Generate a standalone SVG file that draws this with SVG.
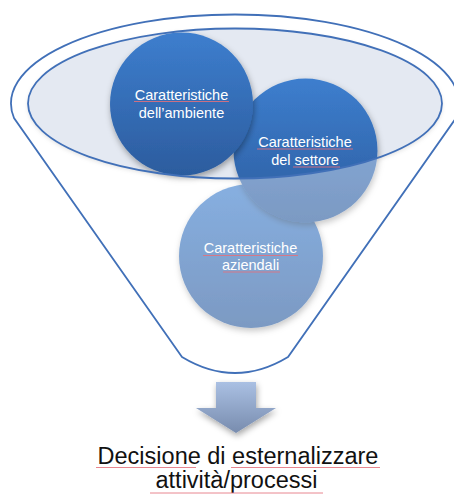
<svg xmlns="http://www.w3.org/2000/svg" width="454" height="497" viewBox="0 0 454 497">
<defs>
<linearGradient id="gc" x1="0" y1="0" x2="0" y2="1">
<stop offset="0" stop-color="#3D7ECE"/>
<stop offset="1" stop-color="#2C5C9E"/>
</linearGradient>
<linearGradient id="ga" x1="0" y1="0" x2="0" y2="1">
<stop offset="0" stop-color="#AAC0E3"/>
<stop offset="1" stop-color="#788CAE"/>
</linearGradient>
<filter id="sh" x="-20%" y="-20%" width="140%" height="140%">
<feDropShadow dx="1" dy="3" stdDeviation="3" flood-color="#000" flood-opacity="0.35"/>
</filter>
<filter id="sh2" x="-20%" y="-20%" width="140%" height="140%">
<feDropShadow dx="0" dy="2" stdDeviation="2" flood-color="#000" flood-opacity="0.2"/>
</filter>
</defs>
<style>
.ct{font-family:"Liberation Sans",Arial,sans-serif;font-size:14.5px;fill:#fff;text-anchor:middle}
.bt{font-family:"Liberation Sans",Arial,sans-serif;font-size:23.5px;fill:#111;text-anchor:middle}
.ol{fill:none;stroke:#4170B8;stroke-width:1.8}
.sp{stroke:#E4717C;stroke-width:1;opacity:0.85}
</style>
<g id="funnel-mouth">
<ellipse cx="235" cy="103.5" rx="207" ry="75" fill="#E4E9F2" filter="url(#sh2)"/>
</g>
<g id="circle3">
<circle cx="251" cy="256" r="72" fill="url(#gc)" filter="url(#sh)"/>
</g>
<g id="circle2">
<circle cx="305.5" cy="150.5" r="72" fill="url(#gc)" filter="url(#sh)"/>
</g>
<g id="circle1">
<circle cx="181.5" cy="104" r="71.5" fill="url(#gc)" filter="url(#sh)"/>
</g>
<g id="funnel">
<path d="M182 357 L14 118 A224 89 0 1 1 456 118 L288 357 Q235 389 182 357 Z M28 103.5 A207 75 0 1 0 442 103.5 A207 75 0 1 0 28 103.5 Z" fill="#fff" fill-opacity="0.38" fill-rule="evenodd"/>
<path class="ol" d="M182 357 L14 118 A224 89 0 1 1 456 118 L288 357 Q235 389 182 357 Z"/>
<ellipse class="ol" cx="235" cy="103.5" rx="207" ry="75"/>
</g>
<g id="labels">
<text class="ct" x="181.5" y="99.5">Caratteristiche</text>
<text class="ct" x="181.5" y="118">dell’ambiente</text>
<text class="ct" x="305" y="147">Caratteristiche</text>
<text class="ct" x="305" y="165">del settore</text>
<text class="ct" x="250.5" y="253">Caratteristiche</text>
<text class="ct" x="250.5" y="269.5">aziendali</text>
</g>
<g id="arrow">
<path d="M216 382 H256 V408 H276 L236 433 L196 408 H216 Z" fill="url(#ga)" filter="url(#sh)"/>
</g>
<g id="result">
<text class="bt" x="238" y="464">Decisione di esternalizzare</text>
<text class="bt" x="236.5" y="488">attività/processi</text>
</g>
<g id="spellcheck">
<line class="sp" x1="134" y1="101.5" x2="229" y2="101.5"/>
<line class="sp" x1="257" y1="149" x2="353" y2="149"/>
<line class="sp" x1="293" y1="167" x2="340" y2="167"/>
<line class="sp" x1="203" y1="255.5" x2="298" y2="255.5"/>
<line class="sp" x1="223" y1="272" x2="280" y2="272"/>
<line class="sp" x1="96" y1="467.5" x2="196" y2="467.5"/>
<line class="sp" x1="231" y1="467.5" x2="380" y2="467.5"/>
<line class="sp" x1="150" y1="493" x2="323" y2="493"/>
</g>
</svg>
